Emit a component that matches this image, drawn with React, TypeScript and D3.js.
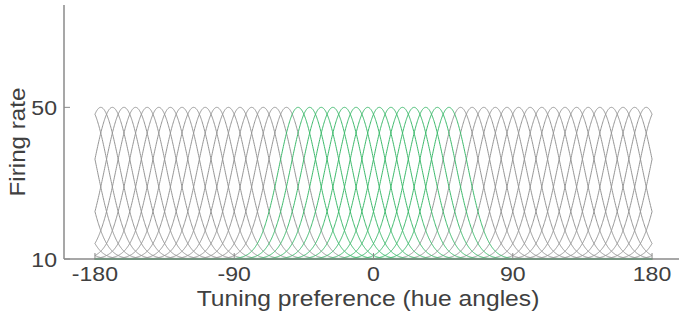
import React from "react";
import * as d3 from "d3";

const preferredHues: number[] = [
  -176.25, -168.75, -161.25, -153.75, -146.25, -138.75, -131.25, -123.75,
  -116.25, -108.75, -101.25, -93.75, -86.25, -78.75, -71.25, -63.75,
  -56.25, -48.75, -41.25, -33.75, -26.25, -18.75, -11.25, -3.75,
  3.75, 11.25, 18.75, 26.25, 33.75, 41.25, 48.75, 56.25,
  63.75, 71.25, 78.75, 86.25, 93.75, 101.25, 108.75, 116.25,
  123.75, 131.25, 138.75, 146.25, 153.75, 161.25, 168.75, 176.25,
];
const highlighted: number[] = [
  -48.75, -41.25, -33.75, -26.25, -18.75, -11.25, -3.75,
  3.75, 11.25, 18.75, 26.25, 33.75, 41.25, 48.75,
];
const baseRate = 10;
const peakRate = 50;
const tuningWidth = 12.3;
const xTicks: number[] = [-180, -90, 0, 90, 180];
const yTicks: number[] = [10, 50];
const xLabel = "Tuning preference (hue angles)";
const yLabel = "Firing rate";

const W = 679;
const H = 320;
const m = { left: 64, top: 5, right: 683, bottom: 259 };

export default function App() {
  const x = d3.scaleLinear().domain([-200, 200]).range([m.left, m.right]);
  const y = d3.scaleLinear().domain([10, 77]).range([m.bottom, m.top]);
  const samples = d3.range(-180, 180.001, 0.25);
  const wrap = (d: number) => ((((d + 180) % 360) + 360) % 360) - 180;
  const rate = (h: number, c: number) => {
    const d = wrap(h - c);
    return baseRate + (peakRate - baseRate) * Math.exp(-(d * d) / (2 * tuningWidth ** 2));
  };
  const path = (c: number) => {
    const pts = samples.map((h) => [h, rate(h, c)] as [number, number]);
    return d3
      .line<[number, number]>()
      .x((p) => x(p[0]))
      .y((p) => y(p[1]))(pts) as string;
  };
  const gray = preferredHues.filter((c) => !highlighted.includes(c));
  const font = "'Liberation Sans', Arial, Helvetica, sans-serif";
  const axisColor = "#8a8a8a";
  const textColor = "#404040";
  return (
    <svg
      width={W}
      height={H}
      style={{ position: "absolute", left: 0, top: 0, background: "#fff" }}
    >
      <g fill="none" strokeWidth={1}>
        {gray.map((c) => (
          <path key={"g" + c} d={path(c)} stroke="#969696" />
        ))}
        {highlighted.map((c) => (
          <path key={"h" + c} d={path(c)} stroke="#3dba6c" />
        ))}
      </g>
      <line x1={m.left} x2={m.right} y1={m.bottom} y2={m.bottom} stroke={axisColor} strokeWidth={1.5} />
      <line x1={m.left} x2={m.left} y1={m.top} y2={m.bottom} stroke={axisColor} strokeWidth={1.5} />
      {xTicks.map((t) => (
        <g key={"xt" + t}>
          <line x1={x(t)} x2={x(t)} y1={m.bottom} y2={m.bottom - 6} stroke={axisColor} />
          <text
            x={x(t)}
            y={m.bottom + 22}
            textAnchor="middle"
            fontFamily={font}
            fontSize={21}
            fill={textColor}
            transform={`translate(${x(t)},0) scale(1.1,1) translate(${-x(t)},0)`}
          >
            {t}
          </text>
        </g>
      ))}
      {yTicks.map((t) => (
        <g key={"yt" + t}>
          <line x1={m.left} x2={m.left + 6} y1={y(t)} y2={y(t)} stroke={axisColor} />
          <text
            x={57}
            y={y(t) + 8}
            textAnchor="end"
            fontFamily={font}
            fontSize={21}
            fill={textColor}
            transform={`translate(57,0) scale(1.1,1) translate(-57,0)`}
          >
            {t}
          </text>
        </g>
      ))}
      <text
        x={368}
        y={306}
        textAnchor="middle"
        fontFamily={font}
        fontSize={22}
        fill={textColor}
        transform={`translate(368,0) scale(1.12,1) translate(-368,0)`}
      >
        {xLabel}
      </text>
      <text
        transform={`translate(25,142) rotate(-90) scale(1.1,1)`}
        textAnchor="middle"
        fontFamily={font}
        fontSize={22}
        fill={textColor}
      >
        {yLabel}
      </text>
    </svg>
  );
}
